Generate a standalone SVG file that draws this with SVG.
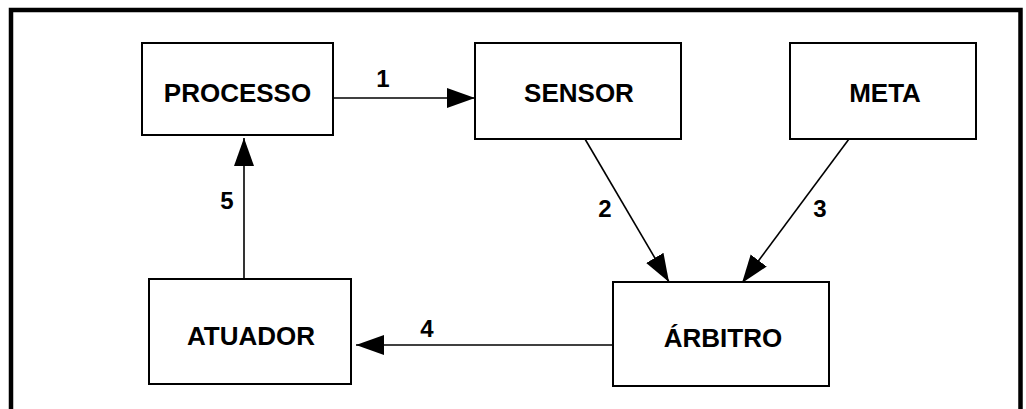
<svg xmlns="http://www.w3.org/2000/svg" width="1026" height="409" viewBox="0 0 1026 409">
<style>
.box{fill:#fff;stroke:#000;stroke-width:2}
.lbl{font-family:"Liberation Sans",Arial,sans-serif;font-weight:bold;font-size:26px;fill:#000;text-anchor:middle}
.num{font-family:"Liberation Sans",Arial,sans-serif;font-weight:bold;font-size:24px;fill:#000;text-anchor:middle}
.con{fill:none;stroke:#000;stroke-width:1.6}
</style>
<defs>
<marker id="ah" markerUnits="userSpaceOnUse" markerWidth="30" markerHeight="22" refX="28" refY="10" orient="auto" viewBox="0 0 30 22">
<path d="M0,0 L28,10 L0,20 z" fill="#000"/>
</marker>
</defs>
<rect width="1026" height="409" fill="#fff"/>
<path d="M11,420 L11,10 L1020.5,10 L1020.5,420" fill="none" stroke="#000" stroke-width="4.5"/>
<g id="connectors">
<line class="con" x1="333" y1="98" x2="475" y2="98" marker-end="url(#ah)"/>
<line class="con" x1="585" y1="139" x2="669" y2="282" marker-end="url(#ah)"/>
<line class="con" x1="849" y1="139" x2="742" y2="283" marker-end="url(#ah)"/>
<line class="con" x1="616" y1="345" x2="356" y2="345" marker-end="url(#ah)"/>
<line class="con" x1="244" y1="282" x2="244" y2="138" marker-end="url(#ah)"/>
<text class="num" x="383" y="87">1</text>
<text class="num" x="605" y="217">2</text>
<text class="num" x="820" y="217">3</text>
<text class="num" x="427" y="337">4</text>
<text class="num" x="227" y="209">5</text>
</g>
<g id="processo">
<rect class="box" x="142" y="43" width="191" height="92"/>
<text class="lbl" x="237.5" y="102">PROCESSO</text>
</g>
<g id="sensor">
<rect class="box" x="475" y="43" width="206" height="96"/>
<text class="lbl" x="579" y="102">SENSOR</text>
</g>
<g id="meta">
<rect class="box" x="790" y="43" width="186" height="96"/>
<text class="lbl" x="885" y="102">META</text>
</g>
<g id="atuador">
<rect class="box" x="149" y="279" width="202" height="105"/>
<text class="lbl" x="251" y="345">ATUADOR</text>
</g>
<g id="arbitro">
<rect class="box" x="613" y="282" width="216" height="104"/>
<text class="lbl" x="723" y="347">ÁRBITRO</text>
</g>
</svg>
